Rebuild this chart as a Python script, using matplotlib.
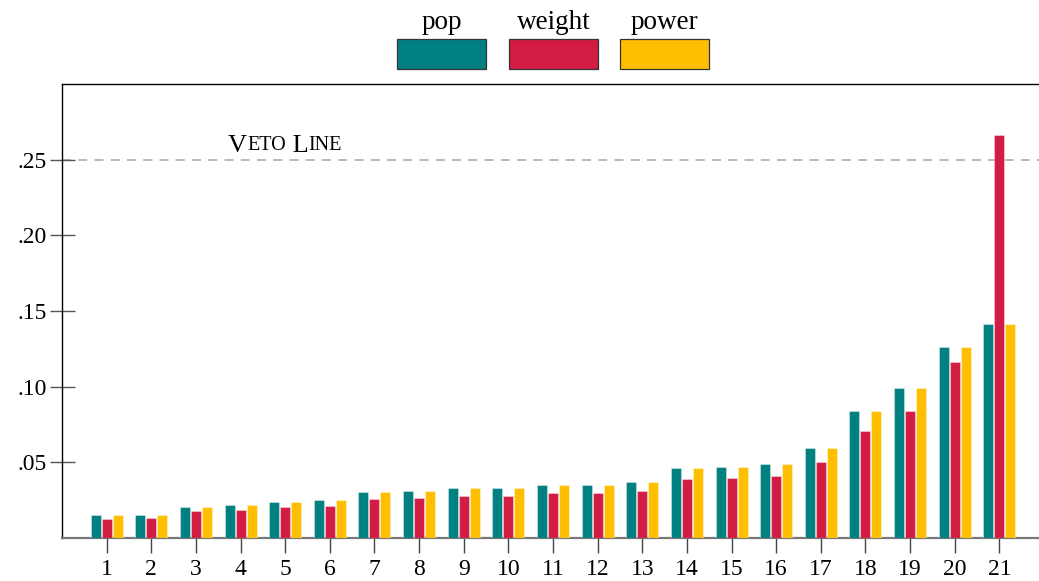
import matplotlib.pyplot as plt
import numpy as np
from matplotlib.patches import Rectangle

plt.rcParams['font.family'] = ['Liberation Serif', 'DejaVu Serif']

# bar values
groups = list(range(1, 22))
pop = [0.0150, 0.0152, 0.0207, 0.0218, 0.0240, 0.0249, 0.0304, 0.0313, 0.0328, 0.0331, 0.0353,
       0.0353, 0.0370, 0.0461, 0.0467, 0.0489, 0.0595, 0.0840, 0.0992, 0.1263, 0.1415]
weight = [0.0126, 0.0130, 0.0176, 0.0185, 0.0203, 0.0212, 0.0258, 0.0265, 0.0278, 0.0280, 0.0298,
          0.0300, 0.0313, 0.0390, 0.0394, 0.0412, 0.0503, 0.0708, 0.0838, 0.1162, 0.2665]
power = list(pop)
series_names = ['pop', 'weight', 'power']
series_colors = ['#008080', '#D21C44', '#FFBF00']
veto = 0.25
yticks = [0.05, 0.10, 0.15, 0.20, 0.25]
ytick_labels = ['.05', '.10', '.15', '.20', '.25']

fig = plt.figure(figsize=(10.39, 5.81), dpi=100)
W, H = 1039, 581
ax = fig.add_axes([62 / W, 1 - 538 / H, 982 / W, 454 / H])

x = np.array(groups)
bw = 0.224
step = 0.246
for i, (vals, col) in enumerate(zip([pop, weight, power], series_colors)):
    ax.bar(x + (i - 1) * step, vals, width=bw, color=col,
           edgecolor=(1, 1, 1, 0.35), linewidth=0.8, zorder=3)

ax.axhline(veto, color='#b3b3b3', linestyle=(0, (5, 4)), linewidth=1.3, zorder=1)

# "Veto Line" set in small caps, built from pieces
big, small = 19, 14.5
dy = (big - small) * 0.22
pieces = [('V', big, 0), ('ETO', small, dy), (' L', big, -dy), ('INE', small, dy)]
prev = ax.text(3.72, 0.2553, pieces[0][0], fontsize=big, va='baseline', ha='left')
for txt, fs, off in pieces[1:]:
    prev = ax.annotate(txt, xy=(1, 0), xycoords=prev, fontsize=fs, va='bottom', ha='left',
                       xytext=(0, off), textcoords='offset points')

ax.set_xlim(0, 22)
ax.set_ylim(0, 0.30)
ax.set_xticks(x)
ax.set_xticklabels([str(g) for g in groups])
ax.set_yticks(yticks)
ax.set_yticklabels(ytick_labels)
ax.tick_params(axis='x', direction='out', length=11, width=1, color='#444444',
               labelsize=17, pad=4)
ax.tick_params(axis='y', direction='inout', length=18, width=1, color='#555555',
               labelsize=17, pad=2)

for side in ['left', 'top']:
    ax.spines[side].set_color('black')
    ax.spines[side].set_linewidth(1.0)
ax.spines['bottom'].set_color('#777777')
ax.spines['bottom'].set_linewidth(1.6)
ax.spines['right'].set_visible(False)

# legend: labels above coloured boxes
box_left = [397, 509, 620]
for name, col, bx in zip(series_names, series_colors, box_left):
    fig.add_artist(Rectangle((bx / W, 1 - 69 / H), 89 / W, 30 / H, transform=fig.transFigure,
                             facecolor=col, edgecolor='#333333', linewidth=0.9))
    fig.text((bx + 44.5) / W, 1 - 29 / H, name, ha='center', va='baseline', fontsize=19.5)

plt.savefig('out.png', dpi=100)
